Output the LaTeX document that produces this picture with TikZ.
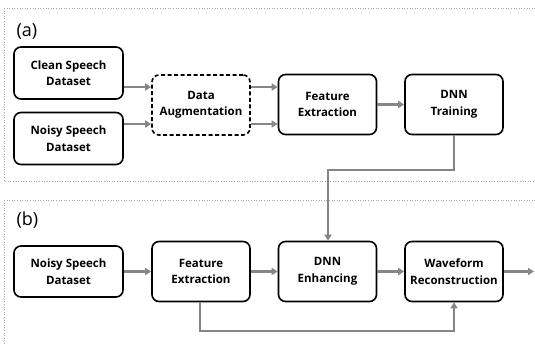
\documentclass[tikz,border=0pt]{standalone}
\usepackage{fontspec}
\setmainfont{Open Sans}
\usetikzlibrary{arrows.meta}
\begin{document}
\begin{tikzpicture}[x=1pt,y=-1pt,
  box/.style={draw=black,line width=1.6pt,rounded corners=7pt,minimum width=98pt,minimum height=60pt,align=center,font=\fontsize{11.5}{16.5}\selectfont\bfseries,inner sep=2pt},
  dbox/.style={box,dashed,dash pattern=on 4pt off 2.5pt},
  flow/.style={draw=gray!95,line width=2.4pt,-{Triangle[length=6pt,width=7pt]}},
  panel/.style={draw=gray!70,dotted,line width=0.6pt},
  lab/.style={font=\fontsize{18}{20}\selectfont,anchor=west}]
\useasboundingbox (0,0) rectangle (535,345);
\clip (0,0) rectangle (535,345);
\draw[panel] (4,8) rectangle (545,181);
\draw[panel] (4,200) rectangle (545,360);
\node[lab] (la) at (13,31) {(a)};
\node[lab] (lb) at (13,220) {(b)};
% panel a
\node[box,minimum height=52pt,minimum width=109pt] (clean) at (68.5,73) {Clean Speech\\Dataset};
\node[box,minimum height=52pt,minimum width=109pt] (noisy) at (68.5,138.5) {Noisy Speech\\Dataset};
\node[dbox] (aug) at (201,105) {Data\\Augmentation};
\node[box] (fea) at (327.5,104.5) {Feature\\Extraction};
\node[box] (trn) at (454,104.5) {DNN\\Training};
\draw[flow] (clean.east |- 0,87) -- (aug.west |- 0,87);
\draw[flow] (noisy.east |- 0,124) -- (aug.west |- 0,124);
\draw[flow] (aug.east |- 0,87) -- (fea.west |- 0,87);
\draw[flow] (aug.east |- 0,124) -- (fea.west |- 0,124);
\draw[flow] (fea) -- (trn);
% panel b
\node[box,minimum height=51pt,minimum width=109pt] (noisyb) at (68.5,271.5) {Noisy Speech\\Dataset};
\node[box] (feb) at (201,271.5) {Feature\\Extraction};
\node[box] (enh) at (327.5,271.5) {DNN\\Enhancing};
\node[box] (wav) at (454,271.5) {Waveform\\Reconstruction};
\coordinate (out) at (534,271.5);
\draw[flow] (noisyb) -- (feb);
\draw[flow] (feb) -- (enh);
\draw[flow] (enh) -- (wav);
\draw[flow] (wav) -- (out);
\draw[flow,rounded corners=0pt] (trn.south) -- (454,170) -- (328,170) -- (enh.north -| 328,0);
\draw[flow] (feb.south -| 200,0) -- (200,331) -- (454,331) -- (wav.south);
\end{tikzpicture}
\end{document}
